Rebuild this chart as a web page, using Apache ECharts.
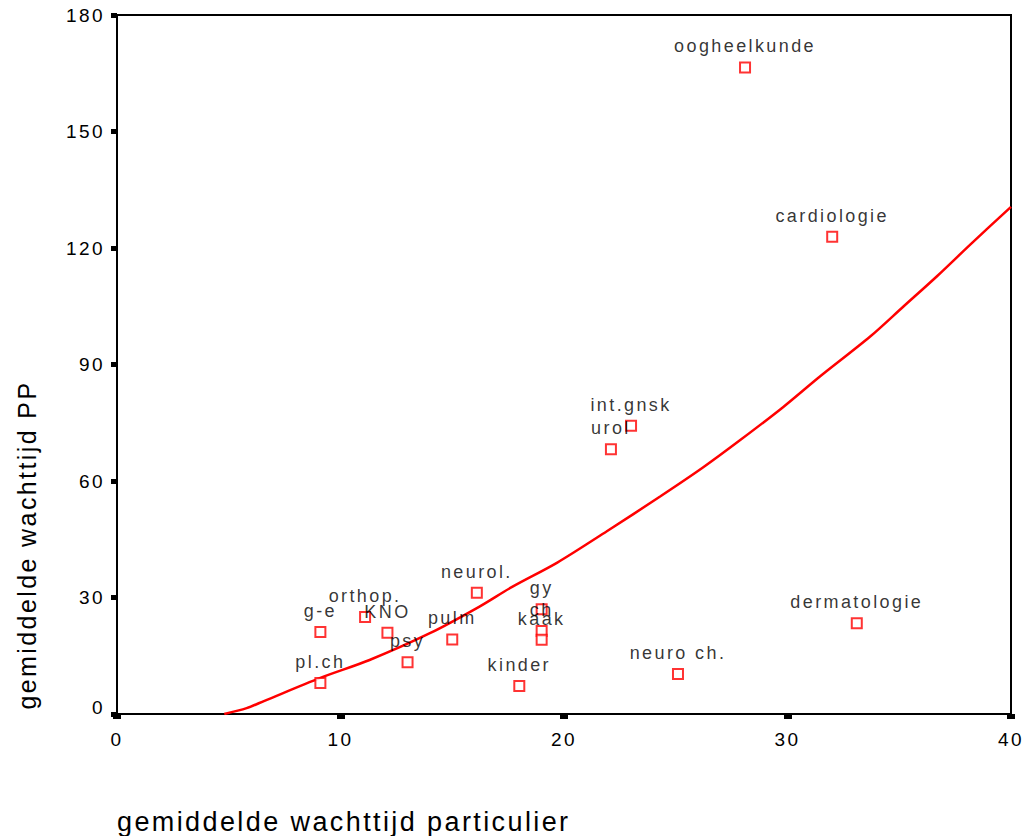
<!DOCTYPE html>
<html>
<head>
<meta charset="utf-8">
<script src="https://cdn.jsdelivr.net/npm/echarts@6/dist/echarts.min.js"></script>
<style>
  html, body { margin: 0; padding: 0; background: #fff; }
  #chart { width: 1028px; height: 836px; }
  #chart svg text { letter-spacing: 2.4px; }
</style>
</head>
<body>
<div id="chart"></div>
<script>
// Scatter points (specialism, x = wachttijd particulier, y = wachttijd PP)
const names = ['oogheelkunde','cardiologie','int.gnsk','urol','dermatologie','neuro ch.','kinder','neurol.','gy','ch','kaak','pulm','g-e','orthop.','KNO','psy','pl.ch'];
const xs = [28.1, 32.0, 23.0, 22.1, 33.1, 25.1, 18.0, 16.1, 19.0, 19.0, 19.0, 15.0, 9.1, 11.1, 12.1, 13.0, 9.1];
const ys = [166.5, 122.9, 74.2, 68.2, 23.4, 10.3, 7.2, 31.2, 27.0, 21.4, 19.1, 19.2, 21.1, 25.0, 20.9, 13.3, 8.0];

// Fitted curve
const fitX = [4.8, 5.8, 6.6, 9.1, 11.3, 14.0, 16.2, 17.7, 19.7, 21.9, 24.3, 26.2, 27.9, 29.8, 31.45, 33.7, 35.2, 36.7, 38.2, 40.0];
const fitY = [0, 1.5, 3.4, 9.3, 13.9, 20.8, 27.6, 32.8, 39.0, 47.0, 56.0, 63.4, 70.6, 79.0, 86.9, 97.2, 105.0, 112.8, 121.0, 130.6];

const xTicks = [0, 10, 20, 30, 40];
const yTicks = [0, 30, 60, 90, 120, 150, 180];

const FONT = '"Liberation Sans", Arial, sans-serif';

const chart = echarts.init(document.getElementById('chart'), null, { renderer: 'svg' });

const scatterData = names.map((n, i) => ({ name: n, value: [xs[i], ys[i]] }));
const fitData = fitX.map((x, i) => [x, fitY[i]]);

chart.setOption({
  animation: false,
  backgroundColor: '#fff',
  grid: {
    left: 117, right: 17, top: 15, bottom: 122,
    show: true, borderColor: '#000', borderWidth: 2, backgroundColor: 'transparent'
  },
  xAxis: {
    type: 'value', min: xTicks[0], max: xTicks[xTicks.length - 1], interval: 10,
    axisLine: { show: true, lineStyle: { color: '#000', width: 2 } },
    axisTick: { show: true, inside: false, length: 5, lineStyle: { color: '#000', width: 8 } },
    axisLabel: { color: '#000', fontSize: 19, fontFamily: FONT, margin: 16 },
    splitLine: { show: false }
  },
  yAxis: {
    type: 'value', min: yTicks[0], max: yTicks[yTicks.length - 1], interval: 30,
    axisLine: { show: true, lineStyle: { color: '#000', width: 2 } },
    axisTick: { show: true, inside: false, length: 6, lineStyle: { color: '#000', width: 5 } },
    axisLabel: {
      color: '#000', fontSize: 19, fontFamily: FONT, margin: 12,
      formatter: v => v === 0 ? '{z|0}' : String(v),
      rich: { z: { color: '#000', fontSize: 19, fontFamily: FONT, padding: [0, 0, 14, 0] } }
    },
    splitLine: { show: false }
  },
  series: [
    {
      type: 'line',
      data: fitData,
      showSymbol: false,
      smooth: 0.3,
      lineStyle: { color: '#ff0000', width: 2.5 },
      z: 2
    },
    {
      type: 'scatter',
      data: scatterData,
      symbol: 'rect',
      symbolSize: 10,
      itemStyle: { color: '#fff', borderColor: '#ff0000', borderWidth: 2 },
      label: {
        show: true, position: 'top', distance: 6,
        formatter: p => p.name,
        color: '#000', fontSize: 18, fontFamily: FONT
      },
      z: 3
    }
  ],
  graphic: [
    {
      type: 'text', x: 27, y: 545, rotation: Math.PI / 2,
      style: { text: 'gemiddelde wachttijd PP', fill: '#000', font: '25px ' + FONT,
               textAlign: 'center', textVerticalAlign: 'middle', align: 'center', verticalAlign: 'middle' }
    },
    {
      type: 'text', x: 117, y: 822,
      style: { text: 'gemiddelde wachttijd particulier', fill: '#000', font: '27px ' + FONT,
               textAlign: 'left', textVerticalAlign: 'middle', align: 'left', verticalAlign: 'middle' }
    }
  ]
});
</script>
</body>
</html>
